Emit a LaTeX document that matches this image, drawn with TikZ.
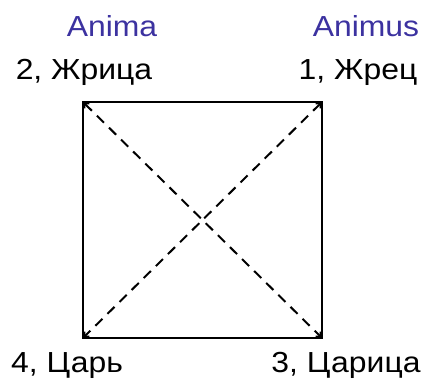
\documentclass[tikz,border=0pt]{standalone}
\usepackage{fontspec}
\setmainfont{Liberation Sans}[FakeStretch=1.1]
\usetikzlibrary{arrows.meta}
\definecolor{animablue}{RGB}{60,50,160}
\begin{document}
\begin{tikzpicture}[x=1pt,y=-1pt,
  lbl/.style={font=\fontsize{29}{34}\selectfont, inner sep=0pt, anchor=base},
  blbl/.style={lbl, text=animablue},
  edge/.style={line width=2.2pt, line cap=rect},
  diag/.style={line width=2pt, dash pattern=on 10pt off 7pt, {Straight Barb[length=4pt,width=7pt]}-{Straight Barb[length=4pt,width=7pt]}}]
\useasboundingbox (0,0) rectangle (424,382);
\coordinate (tl) at (83,102);
\coordinate (tr) at (322,102);
\coordinate (br) at (322,338);
\coordinate (bl) at (83,338);
\draw[edge] (tl) -- (tr) -- (br) -- (bl) -- cycle;
\draw[diag] (tl) -- (br);
\draw[diag] (tr) -- (bl);
\node[blbl] (anima) at (112,37) {Anima};
\node[blbl] (animus) at (366,37) {Animus};
\node[lbl] (l2) at (84,80) {2, Жрица};
\node[lbl] (l1) at (358,80) {1, Жрец};
\node[lbl] (l4) at (67,373) {4, Царь};
\node[lbl] (l3) at (346,373) {3, Царица};
\end{tikzpicture}
\end{document}
